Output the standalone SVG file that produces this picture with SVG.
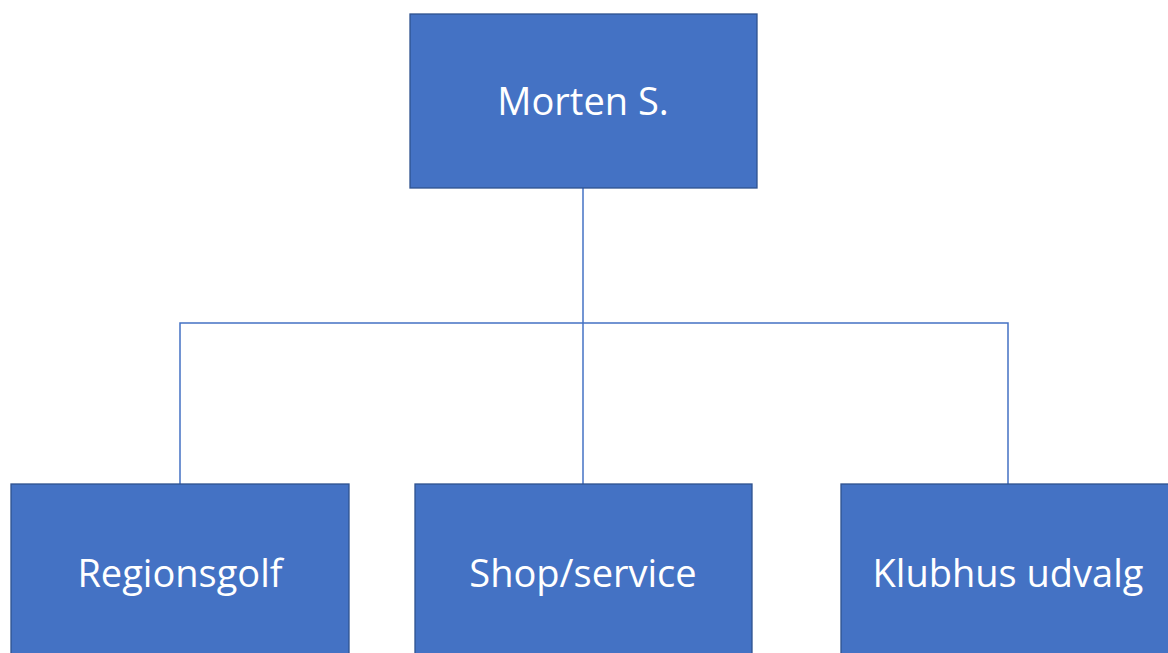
<svg xmlns="http://www.w3.org/2000/svg" width="1168" height="653" viewBox="0 0 1168 653">
<style>
.box{fill:#4472C4;stroke:#2F528F;stroke-width:1.3}
.lbl{fill:#FFFFFF;font-family:"Open Sans","Liberation Sans",sans-serif;font-size:38px;text-anchor:middle}
.con{fill:none;stroke:#4472C4;stroke-width:1.5}
</style>
<rect width="1168" height="653" fill="#FFFFFF"/>
<g id="connectors">
<path class="con" d="M583 188 V484"/>
<path class="con" d="M180 484 V323 H1008 V484"/>
</g>
<g id="morten">
<rect class="box" x="410" y="14" width="347" height="174"/>
<text class="lbl" x="583" y="115">Morten S.</text>
</g>
<g id="regionsgolf">
<rect class="box" x="11" y="484" width="338" height="180"/>
<text class="lbl" x="180" y="587">Regionsgolf</text>
</g>
<g id="shop">
<rect class="box" x="415" y="484" width="337" height="180"/>
<text class="lbl" x="583" y="587">Shop/service</text>
</g>
<g id="klubhus">
<rect class="box" x="841" y="484" width="337" height="180"/>
<text class="lbl" x="1008" y="587">Klubhus udvalg</text>
</g>
</svg>
